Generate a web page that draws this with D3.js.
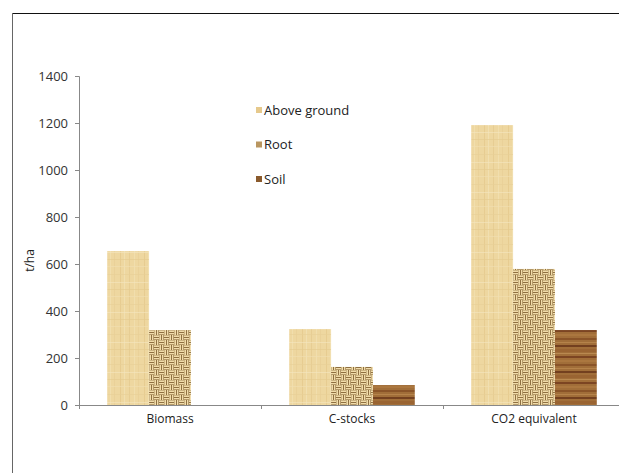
<!DOCTYPE html>
<html>
<head>
<meta charset="utf-8">
<script src="https://d3js.org/d3.v7.min.js"></script>
<style>
  html, body { margin: 0; padding: 0; background: #fff; }
  svg { display: block; }
  svg text { font-family: "Open Sans", "Noto Sans", sans-serif; }
</style>
</head>
<body>
<div id="chart"></div>
<script>
// Data (t/ha)
const categories = ["Biomass", "C-stocks", "CO2 equivalent"];
const seriesNames = ["Above ground", "Root", "Soil"];
const aboveGround = [655, 323, 1191];
const root = [319, 162, 579];
const soil = [null, 85, 319];
const yTicks = [0, 200, 400, 600, 800, 1000, 1200, 1400];

const seriesValues = [aboveGround, root, soil];

const width = 619, height = 473;
const margin = { left: 79, top: 76, bottom: 68 };
const plotRight = 625; // axis runs past the cropped right edge

const svg = d3.select("#chart").append("svg")
  .attr("width", width)
  .attr("height", height);

// Textures for the three series
const defs = svg.append("defs");

// papyrus-like light tan
const pAbove = defs.append("pattern")
  .attr("id", "tex-above")
  .attr("patternUnits", "userSpaceOnUse")
  .attr("width", 24).attr("height", 30);
pAbove.append("rect").attr("width", 24).attr("height", 30).attr("fill", "#eed7a0");
[[2, "#e3c68a"], [7, "#f3e2b6"], [11, "#e8cd94"], [17, "#e2c487"], [21, "#f4e4bb"]].forEach(([x, c]) => {
  pAbove.append("rect").attr("x", x).attr("y", 0).attr("width", 1).attr("height", 30).attr("fill", c).attr("opacity", 0.6);
});
[[4, "#e8cf96"], [12, "#f5e6c0"], [19, "#e4c98e"], [26, "#f2e0b2"]].forEach(([y, c]) => {
  pAbove.append("rect").attr("x", 0).attr("y", y).attr("width", 24).attr("height", 1).attr("fill", c).attr("opacity", 0.6);
});

// basket weave: dark base with cream strands
const q = 5;
const pRoot = defs.append("pattern")
  .attr("id", "tex-root")
  .attr("patternUnits", "userSpaceOnUse")
  .attr("width", 2 * q).attr("height", 2 * q);
pRoot.append("rect").attr("width", 2 * q).attr("height", 2 * q).attr("fill", "#765527");
const cream = "#f1dcaa";
// horizontal strands in top-left and bottom-right quadrants
[[0, 0], [q, q]].forEach(([qx, qy]) => {
  pRoot.append("rect").attr("x", qx).attr("y", qy + 0.3).attr("width", q).attr("height", 1.7).attr("fill", cream);
  pRoot.append("rect").attr("x", qx).attr("y", qy + 2.8).attr("width", q).attr("height", 1.7).attr("fill", cream);
});
// vertical strands in the other two quadrants
[[q, 0], [0, q]].forEach(([qx, qy]) => {
  pRoot.append("rect").attr("x", qx + 0.3).attr("y", qy).attr("width", 1.7).attr("height", q).attr("fill", cream);
  pRoot.append("rect").attr("x", qx + 2.8).attr("y", qy).attr("width", 1.7).attr("height", q).attr("fill", cream);
});

// wood grain
const pSoil = defs.append("pattern")
  .attr("id", "tex-soil")
  .attr("patternUnits", "userSpaceOnUse")
  .attr("width", 40).attr("height", 26);
pSoil.append("rect").attr("width", 40).attr("height", 26).attr("fill", "#a16e39");
[[0, 2, "#8a5428"], [4, 1, "#b5834a"], [7, 2, "#73401f"], [11, 3, "#9a6432"], [15, 1, "#b98950"],
 [18, 2, "#7c4522"], [22, 2, "#ab773f"]].forEach(([y, h, c]) => {
  pSoil.append("rect").attr("x", 0).attr("y", y).attr("width", 40).attr("height", h).attr("fill", c);
});

const textures = ["url(#tex-above)", "url(#tex-root)", "url(#tex-soil)"];
const legendSwatch = ["#e6c98c", "#b99660", "#8a5a2c"];

// Outer frame (top and left edges visible)
svg.append("line").attr("x1", 12).attr("x2", width).attr("y1", 13.5).attr("y2", 13.5)
  .attr("stroke", "#111").attr("stroke-width", 1);
svg.append("line").attr("x1", 12.5).attr("x2", 12.5).attr("y1", 13).attr("y2", height)
  .attr("stroke", "#666").attr("stroke-width", 1);

// Scales
const x = d3.scaleBand()
  .domain(categories)
  .range([margin.left, plotRight])
  .paddingInner(0).paddingOuter(0);

const innerPad = 0.31;
const x1 = d3.scaleBand()
  .domain(seriesNames)
  .range([x.bandwidth() * innerPad / 2, x.bandwidth() * (1 - innerPad / 2)]);

const y = d3.scaleLinear()
  .domain([0, 1400])
  .range([height - margin.bottom, margin.top]);

// Bars
const groups = svg.append("g").selectAll("g")
  .data(categories)
  .join("g")
  .attr("transform", d => `translate(${x(d)},0)`);

groups.selectAll("rect")
  .data((d, i) => seriesNames.map((s, j) => ({ s, j, v: seriesValues[j][i] })).filter(e => e.v != null))
  .join("rect")
  .attr("x", d => x1(d.s))
  .attr("width", x1.bandwidth())
  .attr("y", d => y(d.v))
  .attr("height", d => y(0) - y(d.v))
  .attr("fill", d => textures[d.j]);

// Y axis
const yAxis = svg.append("g")
  .attr("transform", `translate(${margin.left},0)`)
  .call(d3.axisLeft(y).tickValues(yTicks).tickSize(4).tickPadding(7).tickFormat(d3.format("d")));
yAxis.attr("font-family", null).attr("font-size", null);
yAxis.select(".domain").attr("stroke", "#888").attr("d", `M-4,${y(1400) + 0.5}H0.5V${y(0) + 0.5}`);
yAxis.selectAll(".tick line").attr("stroke", "#888");
yAxis.selectAll(".tick text").attr("fill", "#333").style("font-size", "13px");

// X axis
const xAxis = svg.append("g")
  .attr("transform", `translate(0,${y(0)})`)
  .call(d3.axisBottom(x).tickSize(0).tickPadding(9));
xAxis.attr("font-family", null).attr("font-size", null);
xAxis.select(".domain").attr("stroke", "#888").attr("stroke-width", 1.2);
xAxis.selectAll(".tick text").attr("fill", "#222").style("font-size", "12px");
// category boundary ticks
xAxis.selectAll(".boundary")
  .data(categories.map(c => x(c)).concat([x(categories[categories.length - 1]) + x.bandwidth()]))
  .join("line")
  .attr("class", "boundary")
  .attr("x1", d => Math.round(d) + 0.5).attr("x2", d => Math.round(d) + 0.5)
  .attr("y1", 0).attr("y2", 4)
  .attr("stroke", "#888");

// Y axis title
svg.append("text")
  .attr("transform", `translate(34,${(y(0) + y(1400)) / 2 + 20}) rotate(-90)`)
  .attr("text-anchor", "middle")
  .attr("fill", "#222")
  .style("font-size", "12px")
  .text("t/ha");

// Legend
const legend = svg.append("g").attr("transform", "translate(256,110)");
const legendItems = legend.selectAll("g")
  .data(seriesNames)
  .join("g")
  .attr("transform", (d, i) => `translate(0,${i * 34.5})`);
legendItems.append("rect")
  .attr("x", 0).attr("y", -3)
  .attr("width", 6).attr("height", 6)
  .attr("fill", (d, i) => legendSwatch[i]);
legendItems.append("text")
  .attr("x", 8)
  .attr("dy", "0.35em")
  .attr("fill", "#222")
  .style("font-size", "13px")
  .text(d => d);
</script>
</body>
</html>
